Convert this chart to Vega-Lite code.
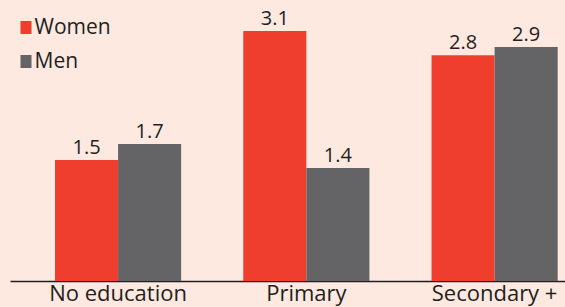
{
  "$schema": "https://vega.github.io/schema/vega-lite/v6.json",
  "width": 555,
  "height": 281,
  "autosize": {"type": "none"},
  "padding": {"left": 10, "top": 0, "right": 0, "bottom": 26},
  "background": "#fde9e0",
  "config": {
    "view": {"stroke": null},
    "font": "Open Sans"
  },
  "data": {
    "values": [
      {"edu": "No education", "sex": "Women", "v": 1.5},
      {"edu": "No education", "sex": "Men", "v": 1.7},
      {"edu": "Primary", "sex": "Women", "v": 3.1},
      {"edu": "Primary", "sex": "Men", "v": 1.4},
      {"edu": "Secondary +", "sex": "Women", "v": 2.8},
      {"edu": "Secondary +", "sex": "Men", "v": 2.9}
    ]
  },
  "encoding": {
    "x": {
      "field": "edu",
      "type": "nominal",
      "sort": null,
      "scale": {"paddingInner": 0.33, "paddingOuter": 0.139, "align": 0.86},
      "axis": {
        "title": null,
        "labelAngle": 0,
        "ticks": false,
        "domainColor": "#231f20",
        "domainWidth": 1.4,
        "labelFontSize": 22,
        "labelColor": "#231f20",
        "labelPadding": 2,
        "labelFont": "Open Sans"
      }
    },
    "xOffset": {
      "field": "sex",
      "type": "nominal",
      "sort": ["Women", "Men"],
      "scale": {"paddingInner": 0, "paddingOuter": 0}
    },
    "y": {
      "field": "v",
      "type": "quantitative",
      "scale": {"domain": [0, 3.484], "nice": false},
      "axis": null
    }
  },
  "layer": [
    {
      "mark": {"type": "bar"},
      "encoding": {
        "color": {
          "field": "sex",
          "type": "nominal",
          "sort": ["Women", "Men"],
          "scale": {"domain": ["Women", "Men"], "range": ["#ef3e2e", "#646466"]},
          "legend": {
            "title": null,
            "orient": "none",
            "legendX": 5.5,
            "legendY": 17,
            "symbolType": "M-0.85,-1L0.85,-1L0.85,1L-0.85,1Z",
            "symbolSize": 169,
            "symbolStrokeWidth": 0,
            "labelFontSize": 21,
            "labelColor": "#231f20",
            "labelOffset": -2,
            "rowPadding": 12,
            "labelFont": "Open Sans"
          }
        }
      }
    },
    {
      "mark": {"type": "text", "baseline": "bottom", "dy": -2, "fontSize": 20, "color": "#231f20"},
      "encoding": {
        "text": {"field": "v", "type": "quantitative", "format": ".1f"}
      }
    }
  ]
}
